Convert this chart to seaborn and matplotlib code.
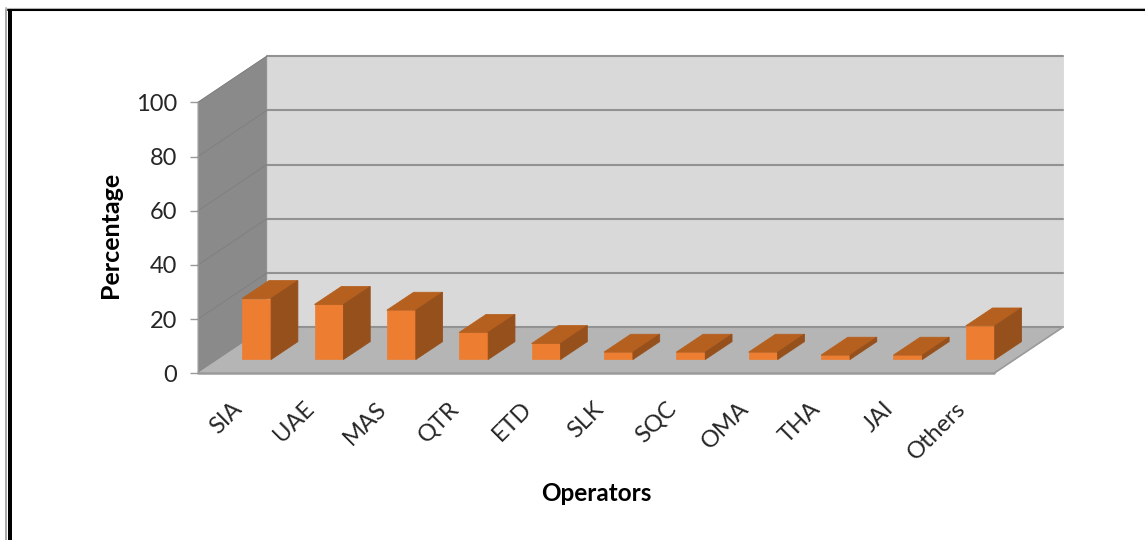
'''
operators share chart, drawn as a fake 3D column chart
front faces come from seaborn, walls and bar sides are polygons on the same axes
'''
import matplotlib
matplotlib.use("Agg")
import matplotlib.pyplot as plt
from matplotlib.lines import Line2D
from matplotlib.patches import Polygon, Rectangle
import seaborn as sns

sns.set_theme(style="white")
plt.rcParams['font.family'] = ['Lato', 'DejaVu Sans']

operators = ['SIA', 'UAE', 'MAS', 'QTR', 'ETD', 'SLK', 'SQC', 'OMA', 'THA', 'JAI', 'Others']
percent = [22.5, 20.3, 18.2, 10.0, 5.9, 2.7, 2.7, 2.7, 1.6, 1.6, 12.4]
y_ticks = [0, 20, 40, 60, 80, 100]

W, H = 1145, 540
# depth of the whole box and of one bar, in data units (categories, percent)
BOX_DX, BOX_DY = 0.95, 17.0
BAR_DX, BAR_DY = 0.37, 6.6
BAR_SHIFT, BAR_BASE = 0.31, 5.1
LABEL_SHIFT = 0.06

fig = plt.figure(figsize=(W / 100, H / 100), dpi=100)
ax = fig.add_axes([198 / W, 1 - 373.3 / H, 796 / W, 271 / H])
ax.patch.set_visible(False)


def face(points, color, zorder, edge=None):
    ax.add_patch(Polygon(points, closed=True, facecolor=color, edgecolor=edge or color,
                         linewidth=0.6, clip_on=False, zorder=zorder))


sns.barplot(x=operators, y=percent, color='#ED7D31', width=0.4, saturation=1, ax=ax, zorder=5,
            edgecolor='#ED7D31', linewidth=0.5)
ax.set_xlim(-0.5, 10.5)
ax.set_ylim(0, 100)

x0, x1 = -0.5, 10.5
# back wall, side wall, floor
face([(x0 + BOX_DX, BOX_DY), (x1 + BOX_DX, BOX_DY), (x1 + BOX_DX, 100 + BOX_DY), (x0 + BOX_DX, 100 + BOX_DY)], '#D9D9D9', 1)
face([(x0, 0), (x0 + BOX_DX, BOX_DY), (x0 + BOX_DX, 100 + BOX_DY), (x0, 100)], '#8A8A8A', 2)
face([(x0, 0), (x1, 0), (x1 + BOX_DX, BOX_DY), (x0 + BOX_DX, BOX_DY)], '#B5B5B5', 2)

# gridlines run along the side wall then the back wall
for v in y_ticks:
    ax.plot([x0 + BOX_DX, x1 + BOX_DX], [v + BOX_DY, v + BOX_DY], color='#929292', lw=1.5, clip_on=False, zorder=3)
    if v > 0:
        ax.plot([x0, x0 + BOX_DX], [v, v + BOX_DY], color='#808080', lw=0.7, clip_on=False, zorder=3)
ax.plot([x0, x1], [0, 0], color='#9A9A9A', lw=1.8, clip_on=False, zorder=3)
ax.plot([x1, x1 + BOX_DX], [0, BOX_DY], color='#9A9A9A', lw=1.2, clip_on=False, zorder=3)
ax.plot([x0, x0], [0, 100], color='#9A9A9A', lw=0.8, clip_on=False, zorder=3)

# move the seaborn bars back onto the floor and add top and side faces
for i, bar in enumerate(ax.patches[:len(operators)]):
    bar.set_x(bar.get_x() + BAR_SHIFT)
    bar.set_y(BAR_BASE)
    bar.set_clip_on(False)
    bar.set_zorder(6 + i)
    left, right = bar.get_x(), bar.get_x() + bar.get_width()
    low, top = BAR_BASE, BAR_BASE + bar.get_height()
    face([(left, top), (right, top), (right + BAR_DX, top + BAR_DY), (left + BAR_DX, top + BAR_DY)], '#B5601F', 6 + i)
    face([(right, low), (right + BAR_DX, low + BAR_DY), (right + BAR_DX, top + BAR_DY), (right, top)], '#96501C', 6 + i)

ax.set_yticks(y_ticks)
ax.set_yticklabels([str(v) for v in y_ticks], fontsize=17, color='#262626')
ax.set_xticks([i + LABEL_SHIFT for i in range(len(operators))])
ax.set_xticklabels(operators, fontsize=17, color='#262626', rotation=45, ha='right', va='center',
                   rotation_mode='anchor')
ax.tick_params(axis='y', length=6, width=1, color='#9A9A9A', left=True, pad=9)
ax.tick_params(axis='x', length=0, bottom=False, pad=23)
sns.despine(ax=ax, left=True, bottom=True)

ax.set_xlabel('Operators', fontsize=17.5, fontweight='bold', color='black')
ax.set_ylabel('Percentage', fontsize=18, fontweight='bold', color='black')
ax.xaxis.set_label_coords(0.5, -0.40)
ax.yaxis.set_label_coords(-0.095, 0.512)

# page border, doubled on the left
fig.add_artist(Rectangle((8 / W, 0), 3.5 / W, 1 - 9 / H, transform=fig.transFigure, facecolor='black', edgecolor='none'))
fig.add_artist(Line2D([5.8 / W, 5.8 / W], [0, 1 - 8 / H], transform=fig.transFigure, color='#9A9A9A', lw=1.2))
fig.add_artist(Line2D([5 / W, 1], [1 - 8.2 / H, 1 - 8.2 / H], transform=fig.transFigure, color='#BDBDBD', lw=0.8))
fig.add_artist(Line2D([8 / W, 1], [1 - 10 / H, 1 - 10 / H], transform=fig.transFigure, color='black', lw=1.5))

fig.savefig('out.png', dpi=100)
